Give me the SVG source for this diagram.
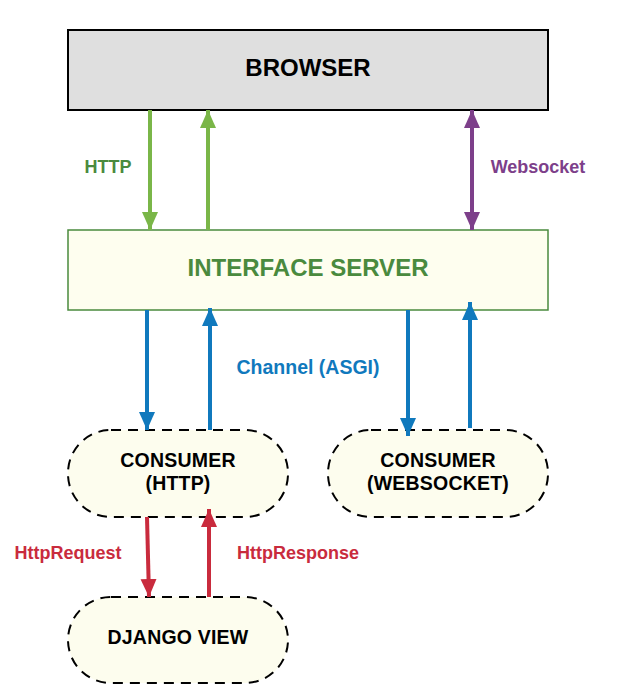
<svg xmlns="http://www.w3.org/2000/svg" width="618" height="699" viewBox="0 0 618 699">
<style>
text{font-family:"Liberation Sans",Arial,sans-serif;font-weight:bold;text-anchor:middle;dominant-baseline:central}
.pill{fill:#fdfdee;stroke:#000;stroke-width:2;stroke-dasharray:10 7}
.lbl{font-size:18px}
.ct{font-size:19.5px;fill:#000;letter-spacing:0.2px}
.g{stroke:#7ab648;stroke-width:4;fill:none}
.b{stroke:#1079bd;stroke-width:4;fill:none}
.p{stroke:#7d3f8a;stroke-width:4;fill:none}
.r{stroke:#c92b3d;stroke-width:4;fill:none}
</style>
<defs>
<marker id="ag" markerUnits="userSpaceOnUse" markerWidth="18" markerHeight="18" refX="18" refY="8" orient="auto"><path d="M0,0 L18,8 L0,16 Z" fill="#7ab648"/></marker>
<marker id="ab" markerUnits="userSpaceOnUse" markerWidth="18" markerHeight="18" refX="18" refY="8" orient="auto"><path d="M0,0 L18,8 L0,16 Z" fill="#1079bd"/></marker>
<marker id="ap" markerUnits="userSpaceOnUse" markerWidth="18" markerHeight="18" refX="18" refY="8" orient="auto"><path d="M0,0 L18,8 L0,16 Z" fill="#7d3f8a"/></marker>
<marker id="aps" markerUnits="userSpaceOnUse" markerWidth="18" markerHeight="18" refX="0" refY="8" orient="auto"><path d="M18,0 L0,8 L18,16 Z" fill="#7d3f8a"/></marker>
<marker id="ar" markerUnits="userSpaceOnUse" markerWidth="18" markerHeight="18" refX="18" refY="8" orient="auto"><path d="M0,0 L18,8 L0,16 Z" fill="#c92b3d"/></marker>
</defs>
<g id="browser">
<rect x="68" y="30" width="480" height="80" fill="#dfdfdf" stroke="#000" stroke-width="2"/>
<text x="308" y="67" style="font-size:24px" fill="#000">BROWSER</text>
</g>
<g id="interface-server">
<rect x="68" y="230" width="480" height="80" fill="#fefeef" stroke="#4a8a3e" stroke-width="1.5"/>
<text x="308" y="267" style="font-size:24px" fill="#4a8a3e">INTERFACE SERVER</text>
</g>
<g id="consumer-http">
<rect x="68" y="430" width="220" height="87" rx="43" ry="43" class="pill"/>
<text x="178" y="460" class="ct">CONSUMER</text>
<text x="178" y="483" class="ct">(HTTP)</text>
</g>
<g id="consumer-websocket">
<rect x="328" y="430" width="220" height="87" rx="43" ry="43" class="pill"/>
<text x="438" y="460" class="ct">CONSUMER</text>
<text x="438" y="483" class="ct">(WEBSOCKET)</text>
</g>
<g id="django-view">
<rect x="68" y="597" width="220" height="86" rx="43" ry="43" class="pill"/>
<text x="178" y="637" class="ct">DJANGO VIEW</text>
</g>
<g id="connectors">
<line x1="150" y1="110" x2="150" y2="230" class="g" marker-end="url(#ag)"/>
<line x1="208" y1="230" x2="208" y2="110" class="g" marker-end="url(#ag)"/>
<line x1="472" y1="110" x2="472" y2="230" class="p" marker-start="url(#aps)" marker-end="url(#ap)"/>
<line x1="147" y1="310" x2="147" y2="430" class="b" marker-end="url(#ab)"/>
<line x1="210" y1="430" x2="210" y2="308" class="b" marker-end="url(#ab)"/>
<line x1="408" y1="310" x2="408" y2="436" class="b" marker-end="url(#ab)"/>
<line x1="470" y1="428" x2="470" y2="302" class="b" marker-end="url(#ab)"/>
<line x1="147" y1="517" x2="149" y2="597" class="r" marker-end="url(#ar)"/>
<line x1="209" y1="597" x2="209" y2="509" class="r" marker-end="url(#ar)"/>
</g>
<g id="labels">
<text x="108" y="167" class="lbl" fill="#4a8a3e">HTTP</text>
<text x="538" y="167" class="lbl" fill="#7d3f8a">Websocket</text>
<text x="308" y="367" class="lbl" style="font-size:19.5px" fill="#1079bd">Channel (ASGI)</text>
<text x="68" y="553" class="lbl" fill="#c92b3d">HttpRequest</text>
<text x="298" y="553" class="lbl" fill="#c92b3d">HttpResponse</text>
</g>
</svg>
